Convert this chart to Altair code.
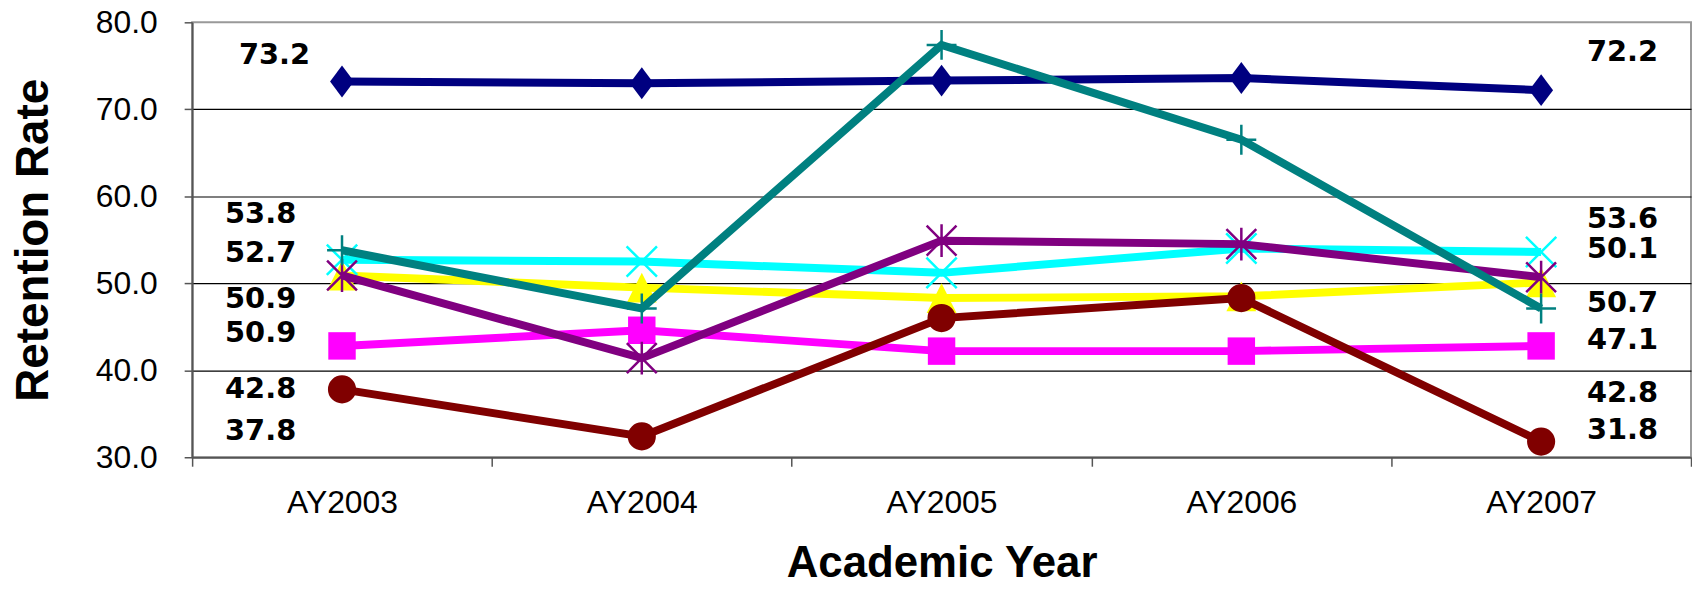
import altair as alt
import pandas as pd

# ---------------- data ----------------
years = ["AY2003", "AY2004", "AY2005", "AY2006", "AY2007"]

series_names = ["Series A", "Series B", "Series C", "Series D", "Series E", "Series F", "Series G"]
navy_vals    = [73.2, 73.0, 73.3, 73.6, 72.2]
magenta_vals = [42.8, 44.6, 42.2, 42.2, 42.8]
yellow_vals  = [50.9, 49.5, 48.3, 48.5, 50.1]
cyan_vals    = [52.7, 52.5, 51.2, 54.0, 53.6]
purple_vals  = [50.9, 41.4, 54.9, 54.5, 50.7]
maroon_vals  = [37.8, 32.4, 46.0, 48.3, 31.8]
teal_vals    = [53.8, 47.1, 77.4, 66.5, 47.1]

all_vals = [navy_vals, magenta_vals, yellow_vals, cyan_vals, purple_vals, maroon_vals, teal_vals]
colors = ["#000080", "#FF00FF", "#FFFF00", "#00FFFF", "#800080", "#800000", "#008080"]

# annotation texts (as printed on the chart) and their anchor heights in data units
left_labels   = ["73.2", "53.8", "52.7", "50.9", "50.9", "42.8", "37.8"]
left_label_y  = [75.2, 56.9, 52.4, 47.2, 43.2, 36.8, 32.0]
right_labels  = ["72.2", "53.6", "50.1", "50.7", "47.1", "42.8", "31.8"]
right_label_y = [75.5, 56.4, 52.9, 46.7, 42.5, 36.4, 32.1]

# ---------------- styles ----------------
P_DIAMOND = "M0,-1L0.75,0L0,1L-0.75,0Z"
P_TRIANGLE = "M0,-1L1,1L-1,1Z"
P_PLUS = "M-1,0L1,0M0,-1L0,1"
P_CROSS = "M-1,-1L1,1M-1,1L1,-1"
P_STAR = "M-1,-1L1,1M-1,1L1,-1M0,-1.1L0,1.1"
marker_styles = [
    dict(shape=P_DIAMOND, filled=True, size=1024),
    dict(shape="square", filled=True, size=760),
    dict(shape=P_TRIANGLE, filled=True, size=900),
    dict(shape=P_CROSS, filled=False, size=930, strokeWidth=2.5),
    dict(shape=P_STAR, filled=False, size=900, strokeWidth=2.5),
    dict(shape="circle", filled=True, size=800),
    dict(shape=P_PLUS, filled=False, size=900, strokeWidth=2.5),
]

rows = []
for name, vals in zip(series_names, all_vals):
    for yr, v in zip(years, vals):
        rows.append({"series": name, "year": yr, "rate": v})
df = pd.DataFrame(rows)

W, H = 1506, 437

x_enc = alt.X(
    "year:N",
    bandPosition=0.5,
    scale=alt.Scale(type="band", domain=years, paddingInner=0, paddingOuter=0),
    axis=alt.Axis(
        title="Academic Year",
        labelAngle=0,
        labelFont="Liberation Sans",
        labelFontSize=32,
        labelColor="black",
        labelPadding=22,
        tickBand="extent",
        tickSize=9,
        tickColor="#555555",
        tickWidth=1.5,
        domainColor="#555555",
        domainWidth=2,
        grid=False,
        titleFont="Liberation Sans",
        titleFontSize=44,
        titleFontWeight="bold",
        titleColor="black",
        titleX=W / 2,
        titleY=120,
        titleBaseline="alphabetic",
        titleAlign="center",
    ),
)

y_enc = alt.Y(
    "rate:Q",
    scale=alt.Scale(domain=[30, 80], nice=False, zero=False),
    axis=alt.Axis(
        title="Retention Rate",
        values=[30, 40, 50, 60, 70, 80],
        format=".1f",
        labelFont="Liberation Sans",
        labelFontSize=32,
        labelColor="black",
        labelPadding=27,
        tickSize=8,
        tickColor="#555555",
        tickWidth=1.5,
        domainColor="#555555",
        domainWidth=2,
        grid=True,
        gridColor={"condition": {"test": "datum.value >= 80 || datum.value <= 30", "value": "transparent"},
                   "value": "black"},
        gridWidth=1.2,
        titleFont="Liberation Sans",
        titleFontSize=46,
        titleFontWeight="bold",
        titleColor="black",
        titleAngle=-90,
        titleX=-145,
        titleY=H / 2,
        titleAlign="center",
        titleBaseline="alphabetic",
    ),
)

layers = []
for name, c, ms in zip(series_names, colors, marker_styles):
    sub = alt.Chart(df).transform_filter(alt.datum.series == name)
    layers.append(sub.mark_line(color=c, strokeWidth=8).encode(x=x_enc, y=y_enc))
    layers.append(sub.mark_point(color=c, opacity=1, **ms).encode(x=x_enc, y=y_enc))

left_df = pd.DataFrame({"year": years[0], "label": left_labels, "rate": left_label_y})
right_df = pd.DataFrame({"year": years[-1], "label": right_labels, "rate": right_label_y})

text_style = dict(font="DejaVu Sans", fontSize=29, fontWeight="bold", color="black", baseline="alphabetic")
layers.append(
    alt.Chart(left_df).transform_filter(alt.datum.label != "73.2")
    .mark_text(align="right", dx=-46, **text_style).encode(x=x_enc, y=y_enc, text="label:N")
)
layers.append(
    alt.Chart(left_df).transform_filter(alt.datum.label == "73.2")
    .mark_text(align="right", dx=-32, **text_style).encode(x=x_enc, y=y_enc, text="label:N")
)
layers.append(
    alt.Chart(right_df).mark_text(align="left", dx=46, **text_style).encode(x=x_enc, y=y_enc, text="label:N")
)

chart = (
    alt.layer(*layers)
    .properties(
        width=W,
        height=H,
        autosize=alt.AutoSizeParams(type="none"),
        padding={"left": 185, "top": 13, "right": 1, "bottom": 136},
        background="white",
    )
    .configure_view(stroke="#999999", strokeWidth=2)
)

chart.save("out.html", embed_options={"renderer": "svg", "actions": False})
